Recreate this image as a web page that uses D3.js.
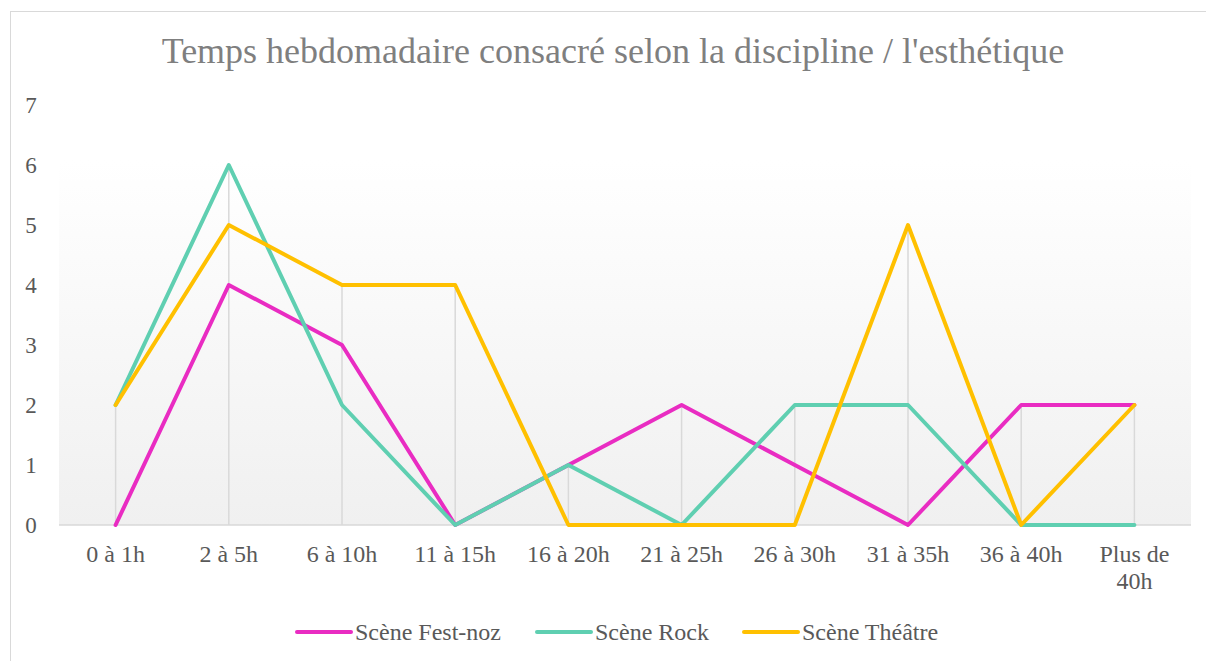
<!DOCTYPE html>
<html>
<head>
<meta charset="utf-8">
<script src="https://cdn.jsdelivr.net/npm/d3@7"></script>
<style>
  body { margin: 0; background: #fff; }
</style>
</head>
<body>
<div id="chart"></div>
<script>
// data
const categories = ["0 à 1h", "2 à 5h", "6 à 10h", "11 à 15h", "16 à 20h", "21 à 25h", "26 à 30h", "31 à 35h", "36 à 40h", "Plus de 40h"];
const festNoz = [0, 4, 3, 0, 1, 2, 1, 0, 2, 2];
const rock = [2, 6, 2, 0, 1, 0, 2, 2, 0, 0];
const theatre = [2, 5, 4, 4, 0, 0, 0, 5, 0, 2];
const seriesNames = ["Scène Fest-noz", "Scène Rock", "Scène Théâtre"];
const yTicks = [0, 1, 2, 3, 4, 5, 6, 7];

const colors = ["#E92CC2", "#5FCFB1", "#FFC000"];
const series = [festNoz, rock, theatre];
const FONT = "'Liberation Serif', 'Times New Roman', Tinos, 'DejaVu Serif', serif";

const W = 1206, H = 661;
const margin = {top: 105, right: 15, bottom: 136, left: 59};
const width = W - margin.left - margin.right;
const height = H - margin.top - margin.bottom;

const svg = d3.select("#chart").append("svg")
    .attr("width", W)
    .attr("height", H)
    .attr("font-family", FONT)
    .style("font-family", FONT);

// chart border
svg.append("rect")
    .attr("x", 10.5).attr("y", 11.5)
    .attr("width", W).attr("height", H)
    .attr("fill", "#fff")
    .attr("stroke", "#d9d9d9");

// title
svg.append("text")
    .attr("x", 613).attr("y", 63)
    .attr("text-anchor", "middle")
    .attr("font-size", 36)
    .attr("fill", "#7f7f7f")
    .text("Temps hebdomadaire consacré selon la discipline / l'esthétique");

const defs = svg.append("defs");
const grad = defs.append("linearGradient")
    .attr("id", "bg").attr("x1", 0).attr("y1", 0).attr("x2", 0).attr("y2", 1);
grad.append("stop").attr("offset", "0%").attr("stop-color", "#ffffff");
grad.append("stop").attr("offset", "100%").attr("stop-color", "#f0f0f0");

const g = svg.append("g")
    .attr("transform", "translate(" + margin.left + "," + margin.top + ")");

const x = d3.scaleBand().domain(categories).range([0, width]);
const y = d3.scaleLinear().domain([0, 7]).range([height, 0]);
const cx = d => x(d) + x.bandwidth() / 2;

// plot area background
g.append("rect")
    .attr("x", 0).attr("y", y(6) - 5)
    .attr("width", width).attr("height", height - y(6) + 5)
    .attr("fill", "url(#bg)");

// drop lines
g.selectAll(".drop")
    .data(categories)
    .join("line")
    .attr("x1", d => cx(d)).attr("x2", d => cx(d))
    .attr("y1", y(0))
    .attr("y2", (d, i) => y(d3.max(series, s => s[i])))
    .attr("stroke", "#d9d9d9")
    .attr("stroke-width", 1.5);

// x axis line
g.append("line")
    .attr("x1", 0).attr("x2", width)
    .attr("y1", y(0)).attr("y2", y(0))
    .attr("stroke", "#d9d9d9")
    .attr("stroke-width", 1.5);

// y tick labels
g.selectAll(".ytick")
    .data(yTicks)
    .join("text")
    .attr("x", -28)
    .attr("y", d => y(d))
    .attr("dy", "0.35em")
    .attr("text-anchor", "middle")
    .attr("font-size", 23)
    .attr("fill", "#595959")
    .text(d => d);

// x tick labels
g.selectAll(".xtick")
    .data(categories)
    .join("text")
    .attr("x", d => cx(d))
    .attr("y", y(0) + 37)
    .attr("text-anchor", "middle")
    .attr("font-size", 24)
    .attr("fill", "#595959")
    .each(function(d) {
      const t = d3.select(this);
      if (d === "Plus de 40h") {
        t.append("tspan").attr("x", cx(d)).text("Plus de");
        t.append("tspan").attr("x", cx(d)).attr("dy", 27).text("40h");
      } else {
        t.text(d);
      }
    });

// lines
const line = d3.line()
    .x((d, i) => cx(categories[i]))
    .y(d => y(d));

series.forEach((s, k) => {
  g.append("path")
      .datum(s)
      .attr("d", line)
      .attr("fill", "none")
      .attr("stroke", colors[k])
      .attr("stroke-width", 4)
      .attr("stroke-linecap", "round")
      .attr("stroke-linejoin", "round");
});

// legend
const legendX = [297, 537, 744];
const legend = svg.append("g");
seriesNames.forEach((name, k) => {
  legend.append("line")
      .attr("x1", legendX[k]).attr("x2", legendX[k] + 54)
      .attr("y1", 632).attr("y2", 632)
      .attr("stroke", colors[k])
      .attr("stroke-width", 4)
      .attr("stroke-linecap", "round");
  legend.append("text")
      .attr("x", legendX[k] + 58)
      .attr("y", 632)
      .attr("dy", "0.35em")
      .attr("font-size", 24)
      .attr("fill", "#595959")
      .text(name);
});
</script>
</body>
</html>
